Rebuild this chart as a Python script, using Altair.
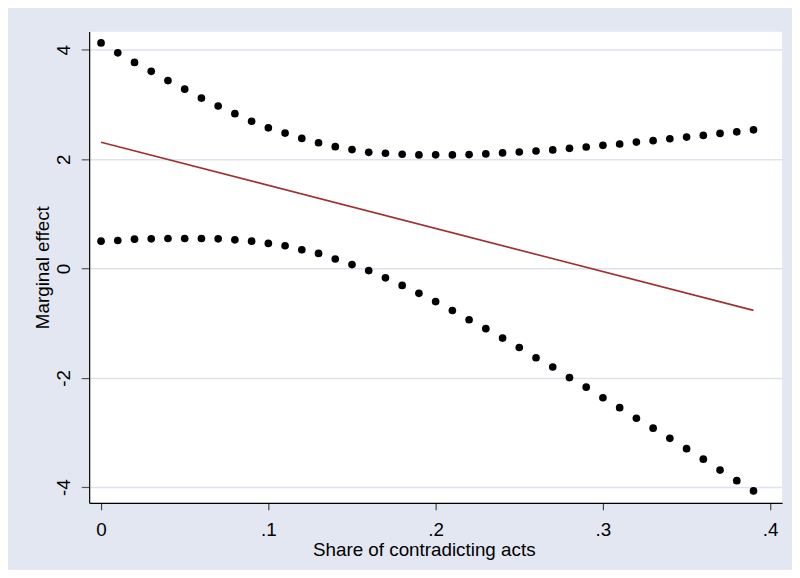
import altair as alt
import pandas as pd

# x positions (share of contradicting acts)
share = [0.00, 0.01, 0.02, 0.03, 0.04, 0.05, 0.06, 0.07, 0.08, 0.09,
         0.10, 0.11, 0.12, 0.13, 0.14, 0.15, 0.16, 0.17, 0.18, 0.19,
         0.20, 0.21, 0.22, 0.23, 0.24, 0.25, 0.26, 0.27, 0.28, 0.29,
         0.30, 0.31, 0.32, 0.33, 0.34, 0.35, 0.36, 0.37, 0.38, 0.39]

upper = [4.126, 3.945, 3.770, 3.607, 3.437, 3.280, 3.117, 2.972, 2.833, 2.694,
         2.573, 2.477, 2.380, 2.301, 2.229, 2.175, 2.126, 2.108, 2.090, 2.078,
         2.080, 2.078, 2.084, 2.096, 2.114, 2.132, 2.150, 2.169, 2.199, 2.223,
         2.253, 2.277, 2.313, 2.338, 2.374, 2.404, 2.434, 2.471, 2.501, 2.537]

lower = [0.501, 0.513, 0.537, 0.543, 0.549, 0.549, 0.549, 0.543, 0.525, 0.501,
         0.459, 0.416, 0.344, 0.277, 0.175, 0.072, -0.037, -0.170, -0.309, -0.454,
         -0.605, -0.768, -0.937, -1.100, -1.272, -1.445, -1.632, -1.801, -1.994, -2.170,
         -2.363, -2.544, -2.738, -2.919, -3.106, -3.294, -3.487, -3.686, -3.880, -4.067]

line_x = [0.00, 0.39]
line_y = [2.31, -0.765]

x_ticks = [0, 0.1, 0.2, 0.3, 0.4]
x_tick_labels = ["0", ".1", ".2", ".3", ".4"]
y_ticks = [-4, -2, 0, 2, 4]
y_tick_labels = ["-4", "-2", "0", "2", "4"]

FONT = "Liberation Sans, Arial, Helvetica, sans-serif"
BG = "#E3E7F1"

bounds = pd.DataFrame({
    "x": share * 2,
    "y": upper + lower,
    "band": ["upper"] * len(share) + ["lower"] * len(share),
})
effect = pd.DataFrame({"x": line_x, "y": line_y})

x_expr = "[" + ",".join("'%s'" % s for s in x_tick_labels) + "][round(datum.value*10)]"
y_expr = "[" + ",".join("'%s'" % s for s in y_tick_labels) + "][round((datum.value+4)/2)]"

x_scale = alt.Scale(domain=[-0.0071, 0.4071], nice=False, zero=False)
y_scale = alt.Scale(domain=[-4.285, 4.333], nice=False, zero=False)

x_axis = alt.Axis(
    values=x_ticks, labelExpr=x_expr, title="Share of contradicting acts",
    grid=False, domainColor="black", domainWidth=1.2,
    tickColor="#444444", tickWidth=1.2, tickSize=7,
    labelFont=FONT, labelFontSize=19, labelColor="black", labelPadding=11,
    labelFlush=False,
    titleFont=FONT, titleFontSize=19, titleFontWeight="normal",
    titleColor="black", titlePadding=1, titleX=338,
)
y_axis = alt.Axis(
    values=y_ticks, labelExpr=y_expr, title="Marginal effect",
    grid=True, gridColor="#DDE2ED", gridWidth=1.5,
    domainColor="black", domainWidth=1.2,
    tickColor="#555555", tickWidth=1.2, tickSize=8,
    labelFont=FONT, labelFontSize=19, labelColor="black", labelPadding=8,
    labelAngle=270, labelAlign="center", labelBaseline="bottom",
    labelFlush=False,
    titleFont=FONT, titleFontSize=19, titleFontWeight="normal",
    titleColor="black", titlePadding=2,
)

dots = alt.Chart(bounds).mark_circle(size=60, color="black", opacity=1).encode(
    x=alt.X("x:Q", scale=x_scale, axis=x_axis),
    y=alt.Y("y:Q", scale=y_scale, axis=y_axis),
    detail="band:N",
)

line = alt.Chart(effect).mark_line(color="#A0302F", strokeWidth=1.6).encode(
    x=alt.X("x:Q", scale=x_scale),
    y=alt.Y("y:Q", scale=y_scale),
)

chart = (
    alt.layer(dots, line)
    .properties(
        width=700, height=476,
        background=BG,
        padding={"left": 82, "top": 21, "right": 10, "bottom": 65},
        autosize=alt.AutoSizeParams(type="none"),
    )
    .configure_view(fill="white", stroke=None)
)

chart.save("out.html", embed_options={"renderer": "svg", "actions": False})
